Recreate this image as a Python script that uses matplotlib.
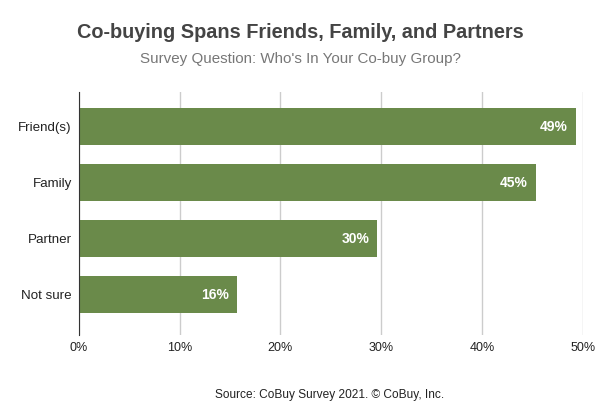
import matplotlib.pyplot as plt

# data
groups = ['Friend(s)', 'Family', 'Partner', 'Not sure']
shares = [49.3, 45.3, 29.6, 15.7]
ticks = [0, 10, 20, 30, 40, 50]

plt.rcParams['font.family'] = ['Liberation Sans', 'DejaVu Sans']

fig = plt.figure(figsize=(6.01, 4.12), dpi=100)
ax = fig.add_axes([0.131, 0.187, 0.839, 0.590])

pos = range(len(groups))
ax.barh(pos, shares, height=0.65, color='#6a8a4a', zorder=2)
for y, v in zip(pos, shares):
    ax.text(v - 0.8, y, f'{round(v)}%', ha='right', va='center',
            color='white', fontsize=10, fontweight='bold', zorder=3)

ax.set_yticks(list(pos))
ax.set_yticklabels(groups, fontsize=9.6, color='#222222')
ax.set_ylim(3.72, -0.62)
ax.set_xlim(0, 50)
ax.set_xticks(ticks)
ax.set_xticklabels([f'{t}%' for t in ticks], fontsize=9, color='#222222')
ax.tick_params(axis='x', length=0, pad=5)
ax.tick_params(axis='y', length=0, pad=5)
ax.grid(axis='x', color='#cccccc', linewidth=1, zorder=0)
for s in ['top', 'right', 'bottom']:
    ax.spines[s].set_visible(False)
ax.spines['left'].set_color('#333333')
ax.spines['left'].set_zorder(4)

fig.text(0.5, 0.922, 'Co-buying Spans Friends, Family, and Partners', ha='center',
         va='center', fontsize=14.3, fontweight='bold', color='#444444')
fig.text(0.5, 0.857, 'Survey Question: Who\'s In Your Co-buy Group?', ha='center',
         va='center', fontsize=10.9, color='#777777')
fig.text(0.549, 0.041, 'Source: CoBuy Survey 2021. \u00a9 CoBuy, Inc.', ha='center',
         va='center', fontsize=8.6, color='#222222')

fig.savefig('out.png', dpi=100)
